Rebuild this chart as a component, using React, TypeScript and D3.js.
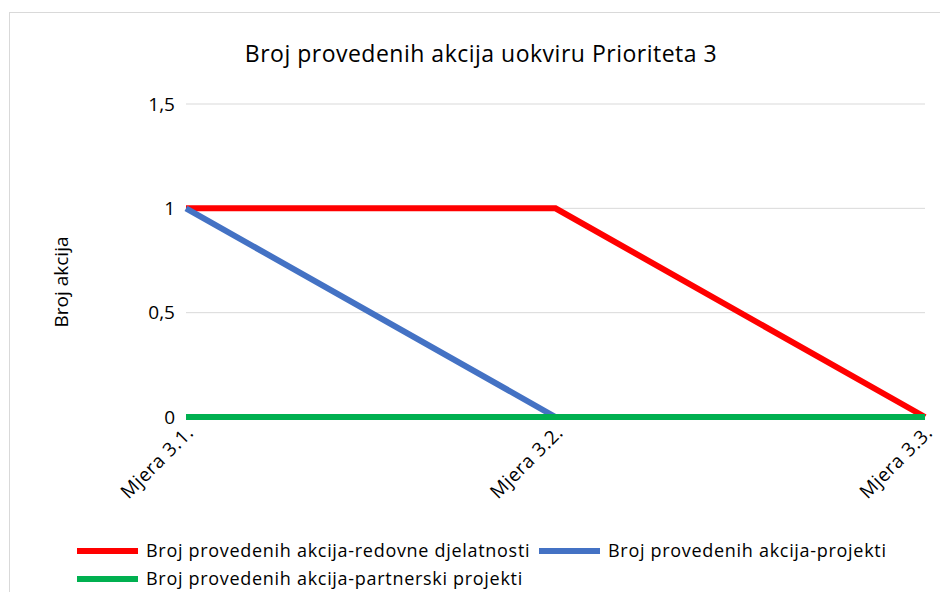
import { useEffect, useRef } from "react"
import * as d3 from "d3"

const categories = ["Mjera 3.1.", "Mjera 3.2.", "Mjera 3.3."]
const redovne = [1, 1, 0]
const projekti = [1, 0, 0]
const partnerski = [0, 0, 0]
const yTicks = [0, 0.5, 1, 1.5]

const series = [
  { name: "Broj provedenih akcija-redovne djelatnosti", values: redovne, color: "#ff0000" },
  { name: "Broj provedenih akcija-projekti", values: projekti, color: "#4472c4" },
  { name: "Broj provedenih akcija-partnerski projekti", values: partnerski, color: "#00b050" },
]

const font = "'Open Sans', sans-serif"

const App = () => {
  const svgRef = useRef<SVGSVGElement>(null)

  useEffect(() => {
    const svg = d3.select(svgRef.current)
    svg.selectAll("*").remove()

    const W = 940
    const H = 592
    const left = 186
    const right = 925
    const top = 104
    const bottom = 417

    // chart border
    svg.append("rect")
      .attr("x", 9.5).attr("y", 12.5)
      .attr("width", W).attr("height", H)
      .attr("fill", "white").attr("stroke", "#d9d9d9").attr("stroke-width", 1)

    const x = d3.scalePoint().domain(categories).range([left, right])
    const y = d3.scaleLinear().domain([0, 1.5]).range([bottom, top])

    // gridlines
    svg.append("g")
      .selectAll("line")
      .data(yTicks)
      .join("line")
      .attr("x1", left).attr("x2", right)
      .attr("y1", (d) => y(d)).attr("y2", (d) => y(d))
      .attr("stroke", "#d9d9d9").attr("stroke-width", 1)

    // y tick labels
    svg.append("g")
      .selectAll("text")
      .data(yTicks)
      .join("text")
      .attr("x", left - 11)
      .attr("y", (d) => y(d))
      .attr("dy", "0.35em")
      .attr("text-anchor", "end")
      .style("font-family", font)
      .style("font-size", "19px")
      .style("fill", "#000")
      .text((d) => d3.format("")(d).replace(".", ","))

    // x labels
    svg.append("g")
      .selectAll("text")
      .data(categories)
      .join("text")
      .attr("transform", (d) => `translate(${(x(d) as number) + 4},${bottom + 12}) rotate(-45)`)
      .attr("text-anchor", "end")
      .attr("dy", "0.35em")
      .style("font-family", font)
      .style("font-size", "19px")
      .style("letter-spacing", "0.6px")
      .style("fill", "#000")
      .text((d) => d)

    const line = d3.line<number>()
      .x((_, i) => x(categories[i]) as number)
      .y((d) => y(d))

    series.forEach((s) => {
      svg.append("path")
        .datum(s.values)
        .attr("fill", "none")
        .attr("stroke", s.color)
        .attr("stroke-width", 6)
        .attr("d", line)
    })

    // title
    svg.append("text")
      .attr("x", 481).attr("y", 62)
      .attr("text-anchor", "middle")
      .style("font-family", font)
      .style("font-size", "23px")
      .style("letter-spacing", "0.5px")
      .style("fill", "#000")
      .text("Broj provedenih akcija uokviru Prioriteta 3")

    // y axis label
    svg.append("text")
      .attr("transform", `translate(68,282) rotate(-90)`)
      .attr("text-anchor", "middle")
      .style("font-family", font)
      .style("font-size", "19px")
      .style("fill", "#000")
      .text("Broj akcija")

    // legend
    const legendPos = [
      { x: 77, y: 551 },
      { x: 539, y: 551 },
      { x: 77, y: 579 },
    ]
    series.forEach((s, i) => {
      const g = svg.append("g").attr("transform", `translate(${legendPos[i].x},${legendPos[i].y})`)
      g.append("line")
        .attr("x1", 0).attr("x2", 61)
        .attr("y1", 0).attr("y2", 0)
        .attr("stroke", s.color).attr("stroke-width", 6)
      g.append("text")
        .attr("x", 69).attr("y", 0)
        .attr("dy", "0.35em")
        .style("font-family", font)
        .style("font-size", "18px")
        .style("letter-spacing", "0.7px")
        .style("fill", "#000")
        .text(s.name)
    })
  }, [])

  return (
    <svg
      ref={svgRef}
      width={940}
      height={592}
      style={{ position: "absolute", left: 0, top: 0 }}
    />
  )
}

export default App
